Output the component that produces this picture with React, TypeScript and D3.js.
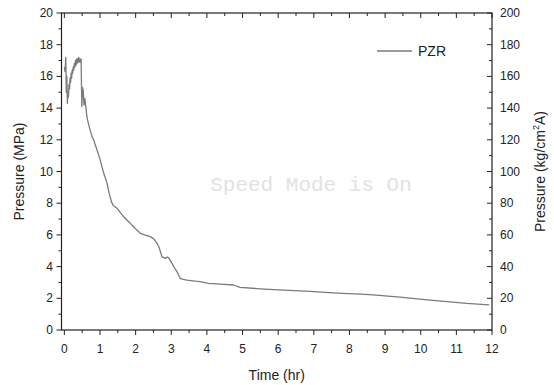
import React from "react";
import * as d3 from "d3";

const times = [0.0,0.02,0.04,0.055,0.07,0.085,0.1,0.115,0.13,0.145,0.16,0.175,0.19,0.205,0.22,0.235,0.25,0.265,0.28,0.295,0.31,0.325,0.34,0.355,0.37,0.385,0.4,0.415,0.43,0.45,0.47,0.49,0.51,0.53,0.55,0.575,0.636,0.70,0.777,0.82,0.917,1.01,1.09,1.2,1.26,1.32,1.37,1.48,1.66,1.85,1.99,2.13,2.27,2.41,2.51,2.6,2.66,2.74,2.83,2.89,2.93,3.02,3.08,3.16,3.25,3.34,3.44,3.67,3.81,4.05,4.37,4.75,4.93,5.49,6.15,6.9,7.65,8.3,8.67,9.42,10.26,10.82,11.29,11.92];
const pzr = [16.6,16.3,17.2,15.0,16.0,14.3,15.0,14.7,15.5,15.2,15.9,15.6,16.2,15.9,16.4,16.2,16.6,16.4,16.8,16.6,17.0,16.7,17.1,16.8,17.1,16.9,17.2,16.9,17.1,16.9,17.1,14.1,15.3,15.1,14.2,14.6,13.4,12.8,12.2,12.0,11.36,10.7,10.0,9.25,8.6,8.1,7.85,7.68,7.15,6.73,6.4,6.1,5.98,5.89,5.75,5.47,5.2,4.63,4.52,4.6,4.55,4.2,3.95,3.68,3.26,3.2,3.15,3.08,3.05,2.94,2.9,2.84,2.69,2.6,2.52,2.44,2.33,2.26,2.21,2.07,1.89,1.78,1.68,1.58];

const xTicks = [0,1,2,3,4,5,6,7,8,9,10,11,12];
const yTicksLeft = [0,2,4,6,8,10,12,14,16,18,20];
const yTicksRight = [0,20,40,60,80,100,120,140,160,180,200];
const seriesName = "PZR";

const W = 554, H = 385;
const L = 61.5, R = 492, T = 13, B = 330;

export default function App() {
  const x = d3.scaleLinear().domain([-0.08, 12]).range([L, R]);
  const y = d3.scaleLinear().domain([0, 20]).range([B, T]);
  const y2 = d3.scaleLinear().domain([0, 200]).range([B, T]);
  const line = d3.line<number>().x((_, i) => x(times[i])).y((d) => y(d));
  const path = line(pzr) || "";
  const axisColor = "#222";
  const font = "'Liberation Sans', Arial, sans-serif";
  const minorX = d3.range(0, 12.01, 0.5);
  const minorY = d3.range(0, 20.01, 1);
  const minorY2 = d3.range(0, 200.1, 10);
  return (
    <svg width={W} height={H} style={{ position: "absolute", left: 0, top: 0, background: "#fff" }}>
      <rect x={0} y={0} width={W} height={H} fill="#fff" />
      <text x={311} y={191} fontFamily="'Liberation Mono', 'Courier New', monospace" fontSize={21} fill="#e2e2e2" textAnchor="middle">Speed Mode is On</text>
      <path d={path} fill="none" stroke="#7a7a7a" strokeWidth={1.3} strokeLinejoin="round" />
      {/* frame */}
      <rect x={L} y={T} width={R - L} height={B - T} fill="none" stroke={axisColor} strokeWidth={1.2} />
      {/* bottom ticks */}
      {minorX.map((t) => (
        <line key={"bx" + t} x1={x(t)} x2={x(t)} y1={B} y2={B + (t % 1 === 0 ? 5 : 3)} stroke={axisColor} strokeWidth={1} />
      ))}
      {minorX.map((t) => (
        <line key={"tx" + t} x1={x(t)} x2={x(t)} y1={T} y2={T + (t % 1 === 0 ? 5 : 3)} stroke={axisColor} strokeWidth={1} />
      ))}
      {xTicks.map((t) => (
        <text key={"xl" + t} x={x(t)} y={353} fontFamily={font} fontSize={12} fill="#222" textAnchor="middle">{t}</text>
      ))}
      <text x={(L + R) / 2} y={380} fontFamily={font} fontSize={14} fill="#222" textAnchor="middle">Time (hr)</text>
      {/* left axis */}
      {minorY.map((v) => (
        <line key={"ly" + v} x1={L - (v % 2 === 0 ? 5 : 3)} x2={L} y1={y(v)} y2={y(v)} stroke={axisColor} strokeWidth={1} />
      ))}
      {yTicksLeft.map((v) => (
        <text key={"yl" + v} x={53} y={y(v) + 4} fontFamily={font} fontSize={12} fill="#222" textAnchor="end">{v}</text>
      ))}
      <text transform={`translate(24, ${(T + B) / 2}) rotate(-90)`} fontFamily={font} fontSize={14} fill="#222" textAnchor="middle">Pressure (MPa)</text>
      {/* right axis */}
      {minorY2.map((v) => (
        <line key={"ry" + v} x1={R - (v % 20 === 0 ? 5 : 3)} x2={R} y1={y2(v)} y2={y2(v)} stroke={axisColor} strokeWidth={1} />
      ))}
      {yTicksRight.map((v) => (
        <text key={"yr" + v} x={500} y={y2(v) + 4} fontFamily={font} fontSize={12} fill="#222" textAnchor="start">{v}</text>
      ))}
      <text transform={`translate(545, ${(T + B) / 2}) rotate(-90)`} fontFamily={font} fontSize={14} fill="#222" textAnchor="middle">
        Pressure (kg/cm<tspan dy={-6} fontSize={9}>2</tspan><tspan dy={6}>A)</tspan>
      </text>
      {/* legend */}
      <line x1={377} x2={412} y1={51} y2={51} stroke="#7a7a7a" strokeWidth={1.3} />
      <text x={418} y={56} fontFamily={font} fontSize={14} fill="#222">{seriesName}</text>
    </svg>
  );
}
